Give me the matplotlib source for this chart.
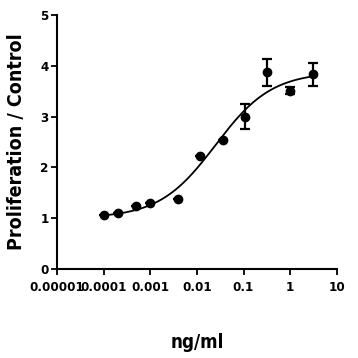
import numpy as np
import matplotlib.pyplot as plt
from matplotlib.ticker import FixedLocator

# measured points (ng/ml vs proliferation / control)
conc = [0.0001, 0.0002, 0.0005, 0.001, 0.004, 0.0115, 0.036, 0.11, 0.32, 1.0, 3.1]
prolif = [1.07, 1.10, 1.24, 1.30, 1.37, 2.22, 2.54, 3.00, 3.87, 3.51, 3.83]
err = [0.0, 0.0, 0.0, 0.0, 0.0, 0.0, 0.0, 0.25, 0.26, 0.07, 0.22]

# 4PL fit parameters
bottom = 1.0
top = 3.88
log_ec50 = -1.6
hill = 0.72

xticks = [1e-5, 1e-4, 1e-3, 1e-2, 1e-1, 1, 10]
xticklabels = ['0.00001', '0.0001', '0.001', '0.01', '0.1', '1', '10']
yticks = [0, 1, 2, 3, 4, 5]

plt.rcParams['font.family'] = ['DejaVu Sans']
plt.rcParams['font.stretch'] = 'condensed'

fig = plt.figure(figsize=(3.58, 3.58), dpi=100)
ax = fig.add_axes([0.159, 0.249, 0.782, 0.709])

xfit = np.logspace(-4, np.log10(3.1), 200)
yfit = bottom + (top - bottom) / (1 + 10 ** ((log_ec50 - np.log10(xfit)) * hill))
ax.plot(xfit, yfit, color='black', lw=1.3)

ax.errorbar(conc, prolif, yerr=err, fmt='o', color='black', ms=6,
            elinewidth=1.6, capsize=3.5, capthick=1.6)

ax.set_xscale('log')
ax.set_xlim(1e-5, 10)
ax.set_ylim(0, 5)
ax.xaxis.set_major_locator(FixedLocator(xticks))
ax.xaxis.set_minor_locator(FixedLocator([]))
ax.set_xticklabels(xticklabels, fontsize=9.5, fontweight='bold', stretch='condensed')
ax.set_yticks(yticks)
ax.set_yticklabels([str(v) for v in yticks], fontsize=9.5, fontweight='bold', stretch='condensed')
ax.tick_params(direction='out', length=4, width=1.3, pad=2)
ax.tick_params(axis='x', pad=5)

for s in ['top', 'right']:
    ax.spines[s].set_visible(False)
for s in ['left', 'bottom']:
    ax.spines[s].set_linewidth(1.5)

ax.set_ylabel('Proliferation / Control', fontsize=14, fontweight='bold', labelpad=10)
ax.set_xlabel('ng/ml', fontsize=13.5, fontweight='bold', labelpad=28)

fig.savefig('out.png', dpi=100)
